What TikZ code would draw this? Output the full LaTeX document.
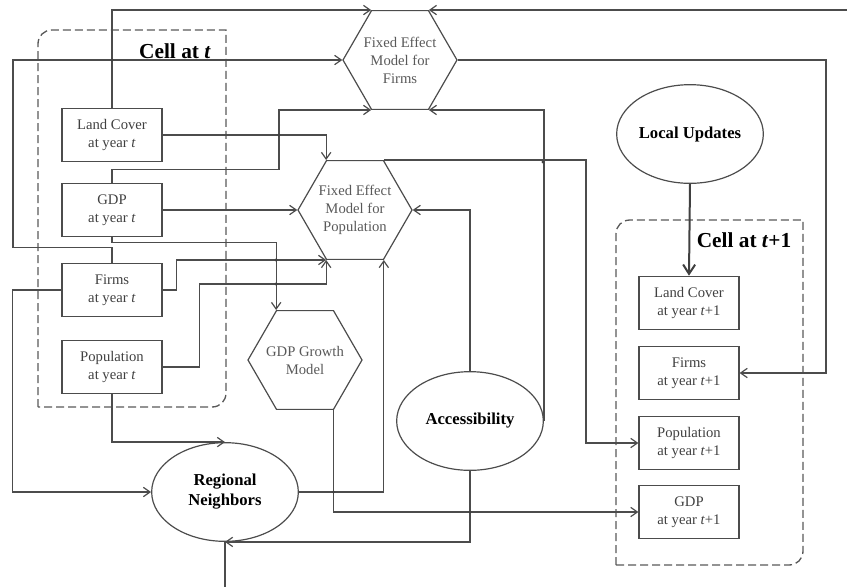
\documentclass[tikz,border=0pt]{standalone}
\usepackage{fontspec}
\setmainfont{Liberation Serif}
\usetikzlibrary{shapes.geometric,arrows.meta}

\begin{document}
\begin{tikzpicture}[x=0.75pt, y=-0.75pt,
		every node/.style={font=\fontsize{11}{13.5}\selectfont, align=center},
		box/.style={draw=black!70, line width=0.9pt, minimum width=75pt, minimum height=40pt, inner sep=0pt, text=black!75},
		hexa/.style={draw=black!70, line width=0.9pt, regular polygon, regular polygon sides=6, minimum size=85.5pt, inner sep=0pt},
		hexatext/.style={text=black!65, inner sep=0pt},
		oval/.style={draw=black!70, line width=0.9pt, ellipse, minimum width=110pt, minimum height=74pt, inner sep=0pt, font=\fontsize{12.5}{15}\selectfont\bfseries},
		link/.style={draw=black!70, line width=0.9pt, -{Straight Barb[length=5pt,width=7pt]}},
		cell/.style={draw=black!65, line width=1pt, dash pattern=on 6pt off 3pt},
		celltitle/.style={font=\fontsize{16}{19}\selectfont\bfseries}]
			\useasboundingbox (0,0) rectangle (847,587);

			% cell at t
			\draw[cell] (38,407) -- (38,44) .. controls (38,36) and (44,30) .. (52,30) -- (226,30) -- (226,393) .. controls (226,401) and (220,407) .. (212,407) -- cycle;
			\node[celltitle] (cellt) at (175,51) {Cell at \textit{t}};
			\node[box] (lct) at (112,135) {Land Cover\\at year \textit{t}};
			\node[box] (gdpt) at (112,210) {GDP\\at year \textit{t}};
			\node[box] (firmst) at (112,290) {Firms\\at year \textit{t}};
			\node[box] (popt) at (112,367) {Population\\at year \textit{t}};

			% cell at t+1
			\draw[cell] (616,565) -- (616,234) .. controls (616,226) and (622,220) .. (630,220) -- (803,220) -- (803,551) .. controls (803,559) and (797,565) .. (789,565) -- cycle;
			\node[celltitle] (celltt) at (744,240) {Cell at \textit{t}+1};
			\node[box] (lct1) at (689,303) {Land Cover\\at year \textit{t}+1};
			\node[box] (firmst1) at (689,373) {Firms\\at year \textit{t}+1};
			\node[box] (popt1) at (689,443) {Population\\at year \textit{t}+1};
			\node[box] (gdpt1) at (689,512) {GDP\\at year \textit{t}+1};

			% models
			\node[hexa, label={[hexatext]center:{Fixed Effect\\Model for\\Firms}}] (fef) at (400,60) {};
			\node[hexa, label={[hexatext]center:{Fixed Effect\\Model for\\Population}}] (fep) at (355,210) {};
			\node[hexa, label={[hexatext]center:{GDP Growth\\Model}}] (gdpg) at (305,360) {};
			\node[oval] (regn) at (225,492) {Regional\\Neighbors};
			\node[oval] (acc) at (470,421) {Accessibility};
			\node[oval] (locu) at (690,134) {Local Updates};
			\coordinate (rim) at (847,0);
			\coordinate (xg) at (279,0);
			\coordinate (ypop) at (0,284);
			\coordinate (topin) at (fef.60 -| rim);
			\coordinate (botout) at (225,587);

			% inputs of the firms model
			\draw[link] (lct.north) |- (fef.120);
			\draw[link] (topin) -- (fef.60);
			\draw[link] (firmst.north) -- ++(0,-15) -| (13,60) -- (fef.west);
			\draw[link] (gdpt.north) -- ++(0,-13) -| (xg |- fef.240) -- (fef.240);
			\draw[link] (acc.east) |- (fef.300);

			% inputs of the population model
			\draw[link] (lct.east) -| (fep.120);
			\draw[link] (gdpt.east) -- (fep.west);
			\draw[link] (firmst.east) -- ++(14,0) |- (fep.240);
			\draw[link] (popt.east) -- ++(37,0) |- (fep.240 |- ypop) -- (fep.240);
			\draw[link] (acc.north) |- (fep.east);
			\draw[link] (regn.east) -| (fep.300);
			\draw[link] (gdpt.south) -- ++(0,5) -| (gdpg.120);

			% updates of the cell
			\draw[link] (fef.east) -| (826,373) -- (firmst1.east);
			\draw[link] (fep.60) -| (586,443) -- (popt1.west);
			\draw[link] (gdpg.300) |- (gdpt1.west);
			\draw[draw=black!75, line width=1.5pt, -{Straight Barb[length=7pt,width=9pt]}] (locu.south) -- (lct1.north);

			% neighbors
			\draw[link] (popt.south) |- (regn.north);
			\draw[link] (firmst.west) -- ++(-49,0) |- (regn.west);
			\draw[link] (acc.south) |- (regn.south);
			\draw[link, -] (regn.south) -- (botout);

			% crossings
			\foreach \p in {(112,60), (279,135), (gdpg.120 |- fep.240), (gdpg.120 |- ypop), (543,162), (333.5,492), (470,512)}
				\fill[black!75] \p circle (1.3pt);
		\end{tikzpicture}
\end{document}
